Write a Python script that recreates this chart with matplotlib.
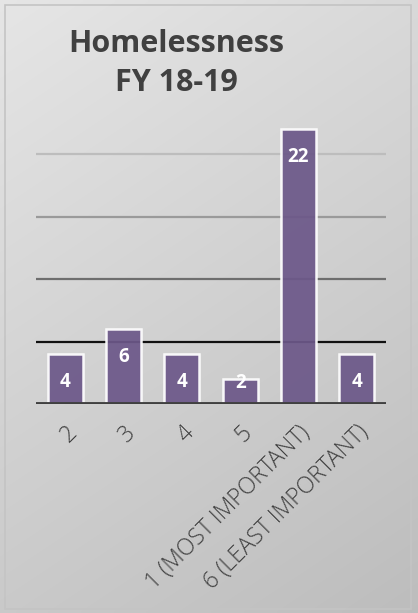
import numpy as np
import matplotlib
matplotlib.use("Agg")
import matplotlib.pyplot as plt
from matplotlib.patches import Rectangle

categories = ["2", "3", "4", "5", "1 (MOST IMPORTANT)", "6 (LEAST IMPORTANT)"]
counts = [4, 6, 4, 2, 22, 4]
grid_values = [5, 10, 15, 20]
grid_colors = ["#111111", "#6e6e6e", "#9a9a9a", "#bdbdbd"]
title_lines = "Homelessness\nFY 18-19"

W, H = 418, 613
fig = plt.figure(figsize=(W / 100, H / 100), dpi=100)
fig.patch.set_facecolor("#d6d6d6")

# soft diagonal grey gradient behind everything
bg = fig.add_axes([0, 0, 1, 1], zorder=-10)
yy, xx = np.mgrid[0:1:200j, 0:1:200j]
shade = 0.90 - 0.11 * yy - 0.05 * xx
bg.imshow(np.dstack([shade, shade, shade]), extent=[0, 1, 0, 1], origin="upper",
          aspect="auto", interpolation="bilinear")
bg.add_patch(Rectangle((5 / W, 4 / H), 406 / W, 604 / H, fill=False,
                       edgecolor="#c4c4c4", linewidth=1.2, transform=bg.transAxes))
bg.set_axis_off()

left, right = 36 / W, 386 / W
bottom = (H - 404) / H
top = (H - 91.5) / H
ax = fig.add_axes([left, bottom, right - left, top - bottom])
ax.set_facecolor("none")
x = np.arange(len(categories))
ax.set_xlim(-0.5, len(categories) - 0.5)
ax.set_ylim(0, 25)

for gv, gc in zip(grid_values, grid_colors):
    ax.axhline(gv, color=gc, linewidth=1.6, zorder=1)

bars = ax.bar(x, counts, width=0.6, color="#6c5889", edgecolor="white",
              linewidth=1.8, alpha=0.93, zorder=2)
ax.axhline(0, color="#404040", linewidth=3.5, zorder=3)

for xi, v in zip(x, counts):
    ylab = v - 2.25 if v - 2.25 > 1 else v - 0.3
    ax.text(xi, ylab, str(v), ha="center", va="center", color="white",
            fontsize=13.5, fontweight="bold", family="Open Sans", zorder=4)

ax.set_xticks(x)
ax.set_xticklabels(categories, rotation=45, ha="right", rotation_mode="anchor",
                   fontsize=16.5, color="#404040", family="Open Sans",
                   fontweight="light")
ax.tick_params(axis="x", length=0, pad=12)
ax.set_yticks([])
for s in ax.spines.values():
    s.set_visible(False)

fig.text(176 / W, (H - 63.5) / H, title_lines, ha="center", va="center",
         fontsize=22, fontweight="bold", color="#404040", family="Open Sans",
         linespacing=1.35)

fig.savefig("out.png", dpi=100)
